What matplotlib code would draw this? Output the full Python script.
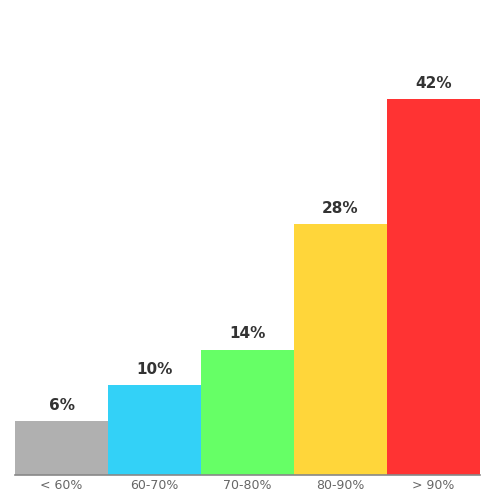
import matplotlib
matplotlib.use("Agg")
import matplotlib.pyplot as plt

categories = ["< 60%", "60-70%", "70-80%", "80-90%", "> 90%"]
values = [6, 10, 14, 28, 42]
colors = ["#b0b0b0", "#33d1f7", "#66ff66", "#ffd63a", "#ff3333"]

fig = plt.figure(figsize=(5, 5), dpi=100)
ax = fig.add_axes([0.03, 0.05, 0.93, 0.806])

bars = ax.bar(range(len(values)), values, width=1.0, color=colors)
for b, v in zip(bars, values):
    ax.annotate(f"{v}%", (b.get_x() + b.get_width() / 2, v), xytext=(0, 6),
                textcoords="offset points", ha="center", va="bottom",
                fontsize=11, fontweight="bold", color="#333333")

ax.set_xlim(-0.5, len(values) - 0.5)
ax.set_ylim(0, 45)
ax.set_xticks(range(len(values)))
ax.set_xticklabels(categories, fontsize=9, color="#666666")
ax.tick_params(axis="x", length=0, pad=3)
ax.set_yticks([])
for s in ["top", "right", "left"]:
    ax.spines[s].set_visible(False)
ax.spines["bottom"].set_color("#888888")
ax.spines["bottom"].set_linewidth(1.2)

fig.savefig("out.png", dpi=100)
